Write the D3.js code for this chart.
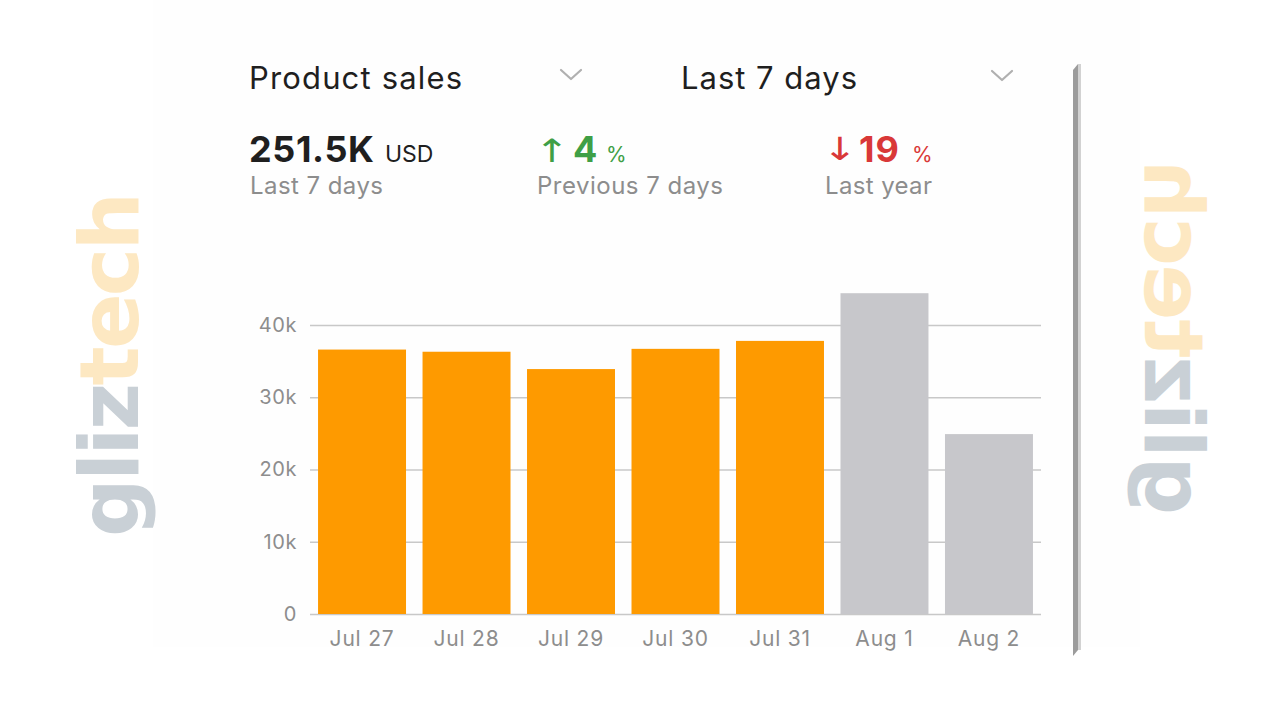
<!DOCTYPE html>
<html><head><meta charset="utf-8">
<script src="https://cdn.jsdelivr.net/npm/d3@7"></script>
<style>html,body{margin:0;padding:0;background:#fff;} svg{display:block}</style>
</head><body>
<svg id="c" width="1280" height="720"></svg>
<script>
// ---- data ----
const categories = ["Jul 27", "Jul 28", "Jul 29", "Jul 30", "Jul 31", "Aug 1", "Aug 2"];
const salesValues = [36600, 36300, 33900, 36700, 37800, 44400, 24900];
const isProjected = [false, false, false, false, false, true, true];
const yTicks = [0, 10000, 20000, 30000, 40000];
const yTickLabels = ["0", "10k", "20k", "30k", "40k"];
const headerLabels = ["Product sales", "Last 7 days"];
const totalValue = "251.5K";
const totalUnit = "USD";
const totalCaption = "Last 7 days";
const changeValues = ["4", "19"];
const changeArrows = ["\u2191", "\u2193"];
const changeCaptions = ["Previous 7 days", "Last year"];
const watermarkParts = ["gliz", "tech"];

// ---- style ----
const FONT = "Inter, 'Liberation Sans', Arial, sans-serif";
const C_ORANGE = "#fe9a00", C_GREY_BAR = "#c7c7cb", C_GRID = "#c8c8c8";
const C_TEXT = "#1f1f1f", C_SUB = "#8d8d8d", C_GREEN = "#3f9f46", C_RED = "#d93838";

const svg = d3.select("#c");

function fit(sel, w) {
  const n = sel.node();
  const len = n.getComputedTextLength();
  if (Math.abs(len - w) > 1) sel.attr("textLength", w).attr("lengthAdjust", "spacing");
  return sel;
}

// faint panel
svg.append("rect").attr("x", 153).attr("y", 0).attr("width", 987).attr("height", 647).attr("fill", "#fefefe");

// watermarks
function watermark(transform) {
  const t = svg.append("text").attr("transform", transform)
    .attr("font-family", "'DejaVu Sans', sans-serif").attr("font-weight", 700)
    .attr("font-size", 82);
  t.append("tspan").attr("fill", "#c9d0d6").text(watermarkParts[0]);
  t.append("tspan").attr("fill", "#fde8c2").text(watermarkParts[1]);
  return t;
}
fit(watermark("translate(138,537) rotate(-90)"), 345);
fit(watermark("translate(1145,515) matrix(0,-1,-1,0,0,0)"), 355);

// right border line
svg.append("path").attr("d", "M1073,70 L1078,64 L1078,650 L1073,656 Z").attr("fill", "#9c9c9c");
svg.append("rect").attr("x", 1078).attr("y", 64).attr("width", 3).attr("height", 586).attr("fill", "#d2d2d2");

// header
fit(svg.append("text").attr("x", 249).attr("y", 89).attr("font-family", FONT).attr("font-size", 31)
  .attr("fill", C_TEXT).text(headerLabels[0]), 213);
fit(svg.append("text").attr("x", 681).attr("y", 89).attr("font-family", FONT).attr("font-size", 31)
  .attr("fill", C_TEXT).text(headerLabels[1]), 176);
[[571, 74], [1002, 75]].forEach(([cx, cy]) => {
  svg.append("path").attr("d", `M${cx - 10},${cy - 4} L${cx},${cy + 5} L${cx + 10},${cy - 4}`)
    .attr("fill", "none").attr("stroke", "#b0b0b0").attr("stroke-width", 2.2)
    .attr("stroke-linecap", "round").attr("stroke-linejoin", "round");
});

// KPI: total
fit(svg.append("text").attr("x", 249).attr("y", 162).attr("font-family", FONT).attr("font-size", 36)
  .attr("font-weight", 700).attr("fill", C_TEXT).text(totalValue), 125);
fit(svg.append("text").attr("x", 385).attr("y", 162).attr("font-family", FONT).attr("font-size", 23)
  .attr("fill", C_TEXT).text(totalUnit), 49);
fit(svg.append("text").attr("x", 250).attr("y", 194).attr("font-family", FONT).attr("font-size", 24)
  .attr("fill", C_SUB).text(totalCaption), 133);

// KPI: changes
const changeX = [[552, 573, 606], [840, 859, 912]];
const changeColors = [C_GREEN, C_RED];
const valueW = [21, 40];
const captionX = [537, 825], captionW = [186, 107];
changeValues.forEach((v, i) => {
  svg.append("text").attr("transform", `translate(${changeX[i][0]},${i === 0 ? 162 : 160}) scale(1.3,1)`)
    .attr("text-anchor", "middle")
    .attr("font-family", "'DejaVu Sans', sans-serif")
    .attr("font-size", 32).attr("fill", changeColors[i]).text(changeArrows[i]);
  fit(svg.append("text").attr("x", changeX[i][1]).attr("y", 162).attr("font-family", FONT).attr("font-size", 36)
    .attr("font-weight", 700).attr("fill", changeColors[i]).text(v), valueW[i]);
  svg.append("text").attr("x", changeX[i][2]).attr("y", 162).attr("font-family", FONT).attr("font-size", 21)
    .attr("fill", changeColors[i]).text("%");
  fit(svg.append("text").attr("x", captionX[i]).attr("y", 194).attr("font-family", FONT).attr("font-size", 24)
    .attr("fill", C_SUB).text(changeCaptions[i]), captionW[i]);
});

// chart
const x = d3.scaleBand().domain(categories).range([310, 1041]).paddingInner(0.158).paddingOuter(0.077);
const y = d3.scaleLinear().domain([0, 40000]).range([614, 325]);

const yAxis = svg.append("g").attr("transform", "translate(310,0)")
  .call(d3.axisLeft(y).tickValues(yTicks).tickFormat((d, i) => yTickLabels[i])
    .tickSizeInner(-731).tickSizeOuter(0).tickPadding(13));
yAxis.select(".domain").remove();
yAxis.selectAll(".tick line").attr("stroke", C_GRID).attr("stroke-width", 1.4);
yAxis.selectAll(".tick text").attr("font-family", FONT).attr("font-size", 20).attr("fill", C_SUB)
  .attr("letter-spacing", 0.6);

svg.append("g").selectAll("rect").data(categories).join("rect")
  .attr("x", d => x(d)).attr("width", x.bandwidth())
  .attr("y", (d, i) => y(salesValues[i])).attr("height", (d, i) => y(0) - y(salesValues[i]))
  .attr("fill", (d, i) => isProjected[i] ? C_GREY_BAR : C_ORANGE);

const xAxis = svg.append("g").attr("transform", "translate(0,614)")
  .call(d3.axisBottom(x).tickSize(0).tickPadding(17));
xAxis.select(".domain").remove();
xAxis.selectAll(".tick text").attr("font-family", FONT).attr("font-size", 21).attr("fill", C_SUB)
  .attr("letter-spacing", 0.8);
</script>
</body></html>
